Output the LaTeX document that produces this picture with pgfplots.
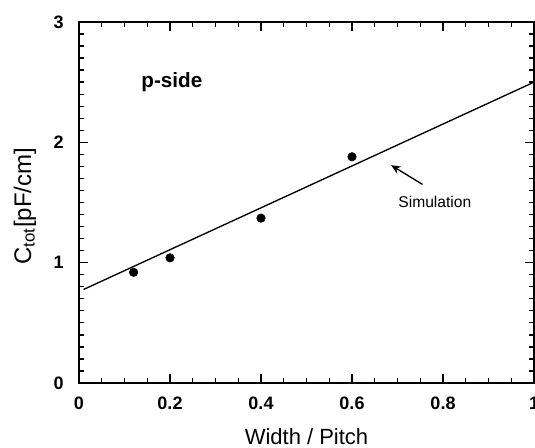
\documentclass[border=0pt]{standalone}
\usepackage{pgfplots}
\pgfplotsset{compat=1.18}
\usetikzlibrary{arrows.meta}
\usepackage{fontspec}
\setmainfont{Liberation Sans}
\begin{document}
\begin{tikzpicture}[x=0.75pt,y=0.75pt]
% page frame, in px-like units; the right edge cuts through the last tick label
\useasboundingbox (-79,-65) rectangle (456,383);
\begin{axis}[
  at={(0,0)}, anchor=south west,
  scale only axis,
  width=341.25pt, height=270.75pt,
  xmin=0, xmax=1, ymin=0, ymax=3,
  xtick={0,0.2,0.4,0.6,0.8,1},
  ytick={0,1,2,3},
  minor x tick num=3,
  minor y tick num=9,
  tick align=inside,
  major tick length=7pt,
  minor tick length=3.5pt,
  every tick/.style={black, line width=1pt},
  axis line style={line width=1.6pt},
  /pgf/number format/assume math mode=true,
  ticklabel style={font=\fontsize{13.5}{15}\selectfont\bfseries},
  xticklabel style={yshift=-7pt},
  yticklabel style={xshift=-8pt},
  xlabel={Width / Pitch},
  ylabel={C\textsubscript{tot}[pF/cm]},
  xlabel style={font=\fontsize{16.5}{18}\selectfont, at={(axis description cs:0.5,-0.148)}, anchor=center},
  ylabel style={font=\fontsize{18}{20}\selectfont, at={(axis description cs:-0.119,0.49)}, anchor=center, rotate=0},
  clip=false,
]
% measured capacitance
\addplot[only marks, mark=*, mark size=3.2pt, black] coordinates {
  (0.12,0.92) (0.20,1.04) (0.40,1.37) (0.60,1.88)
};
% simulation
\addplot[black, line width=1pt] coordinates {(0.01,0.777) (1,2.5)};
\node[font=\fontsize{15.5}{17}\selectfont\bfseries] at (axis cs:0.204,2.5) {p-side};
\draw[-{Stealth[length=7pt,width=6pt]}, line width=1pt] (axis cs:0.755,1.65) -- (axis cs:0.686,1.81);
\node[font=\fontsize{11.7}{13}\selectfont] at (axis cs:0.782,1.508) {Simulation};
\end{axis}
\end{tikzpicture}
\end{document}
